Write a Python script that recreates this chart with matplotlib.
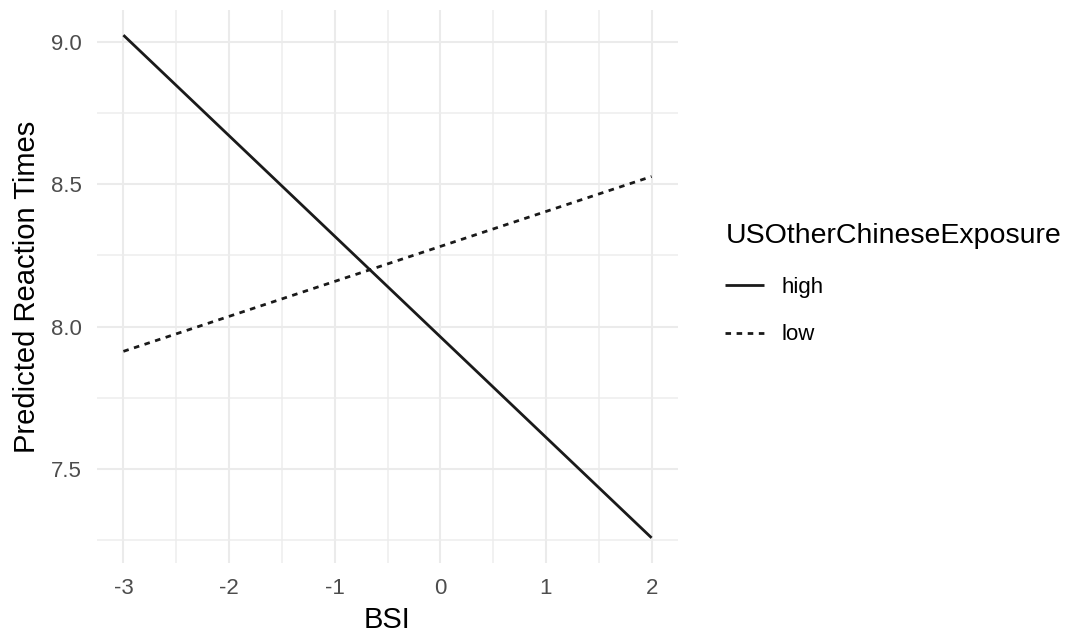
import matplotlib
matplotlib.use("Agg")
import matplotlib.pyplot as plt
import numpy as np

# Data
bsi = [-3, 2]
groups = ["high", "low"]
high_rt = [9.0235, 7.258]
low_rt = [7.913, 8.527]
x_ticks = [-3, -2, -1, 0, 1, 2]
y_ticks = [7.5, 8.0, 8.5, 9.0]
y_ticklabels = ["7.5", "8.0", "8.5", "9.0"]

plt.rcParams['font.family'] = ['Liberation Sans', 'DejaVu Sans']

fig = plt.figure(figsize=(10.77, 6.33), dpi=100)
ax = fig.add_axes([97 / 1077, 1 - 563 / 633, (678 - 97) / 1077, (563 - 10) / 633])

lw = 2.0
ax.plot(bsi, high_rt, color="#1a1a1a", lw=lw, solid_capstyle="butt", label=groups[0])
ax.plot(bsi, low_rt, color="#1a1a1a", lw=lw, linestyle=(0, (2, 2)), dash_capstyle="butt", label=groups[1])

ymin = min(min(high_rt), min(low_rt)); ymax = max(max(high_rt), max(low_rt))
pad = (ymax - ymin) * 0.05
ax.set_ylim(ymin - pad, ymax + pad)
ax.set_xlim(bsi[0] - 0.25, bsi[1] + 0.25)

ax.set_xticks(x_ticks)
ax.set_xticklabels([str(t) for t in x_ticks])
ax.set_yticks(y_ticks)
ax.set_yticklabels(y_ticklabels)
ax.set_xticks([-2.5, -1.5, -0.5, 0.5, 1.5], minor=True)
ax.set_yticks([7.25, 7.75, 8.25, 8.75], minor=True)

ax.grid(True, which="major", color="#EBEBEB", lw=1.5)
ax.grid(True, which="minor", color="#EDEDED", lw=1.1)
ax.set_axisbelow(True)
for s in ax.spines.values():
    s.set_visible(False)
ax.tick_params(which="both", length=0)
ax.tick_params(axis="both", labelsize=16, labelcolor="#4D4D4D")
ax.tick_params(axis="x", pad=11)
ax.tick_params(axis="y", pad=11)

ax.set_xlabel("BSI", fontsize=21, color="black", labelpad=5)
ax.set_ylabel("Predicted Reaction Times", fontsize=21, color="black", labelpad=7)

leg = ax.legend(title="USOtherChineseExposure", loc="center left",
                bbox_to_anchor=(0.659, 0.551), bbox_transform=fig.transFigure,
                frameon=False, fontsize=16, title_fontsize=20.5,
                handlelength=1.75, handletextpad=0.8, labelspacing=1.2,
                alignment="left", borderpad=0.2)
leg._legend_box.sep = 20

fig.savefig("out.png", dpi=100)
